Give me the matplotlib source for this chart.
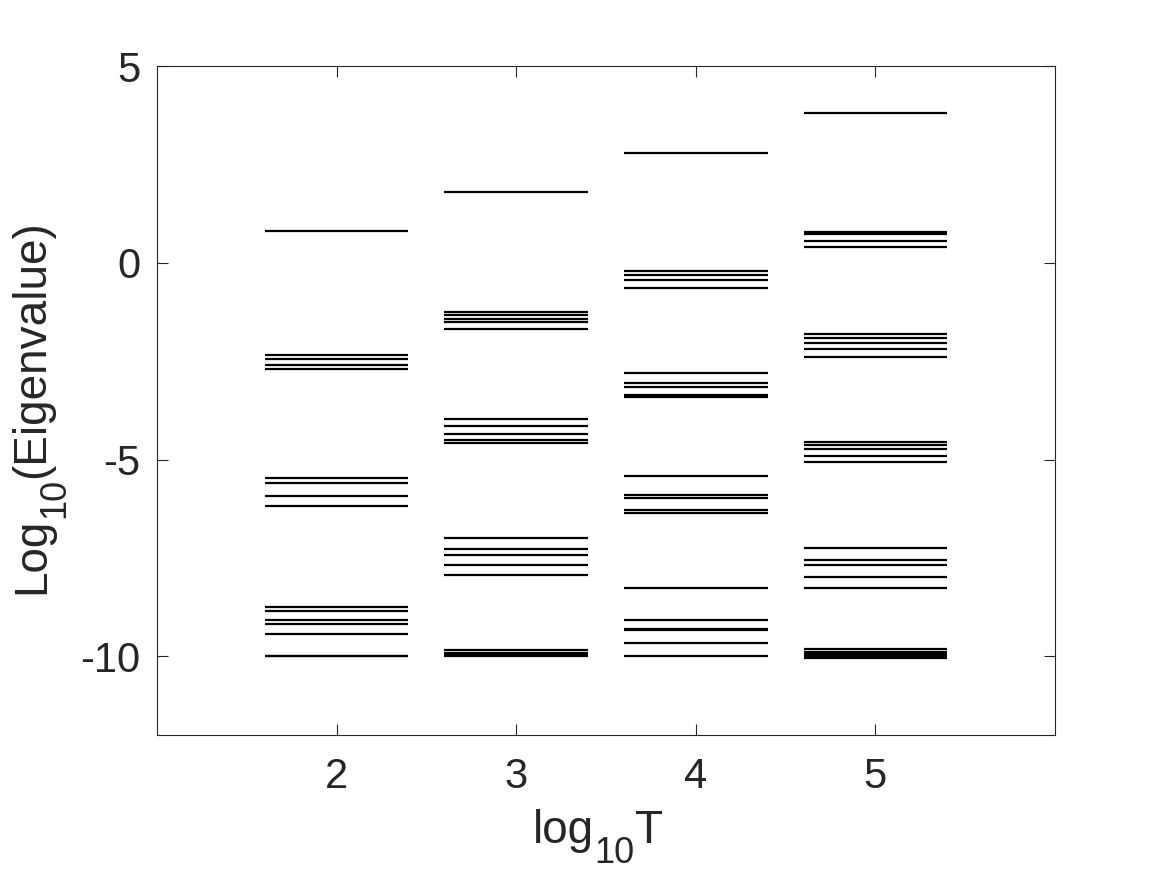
import matplotlib
matplotlib.use('Agg')
import matplotlib.pyplot as plt
from matplotlib.transforms import IdentityTransform

# Log10 eigenvalues, one list per log10(T)
log_t = [2, 3, 4, 5]
eig_t2 = [0.8, -2.35, -2.45, -2.6, -2.7, -5.47, -5.6, -5.92, -6.17,
          -8.76, -8.86, -9.09, -9.18, -9.43, -9.98, -10.0]
eig_t3 = [1.8, -1.25, -1.32, -1.44, -1.5, -1.68, -3.96, -4.14, -4.36, -4.5, -4.59,
          -6.99, -7.27, -7.42, -7.69, -7.94, -9.85, -9.92, -9.96, -10.0]
eig_t4 = [2.8, -0.2, -0.3, -0.44, -0.64, -2.79, -3.06, -3.15, -3.35, -3.4,
          -5.41, -5.89, -5.97, -6.28, -6.36, -8.27, -9.09, -9.3, -9.34, -9.67, -9.99]
eig_t5 = [3.8, 0.79, 0.72, 0.56, 0.39, -1.82, -1.91, -2.04, -2.19, -2.4,
          -4.56, -4.62, -4.73, -4.9, -5.06, -7.26, -7.56, -7.67, -7.98, -8.26,
          -9.82, -9.9, -9.95, -10.0, -10.05]
eigs = [eig_t2, eig_t3, eig_t4, eig_t5]

x_ticks = [2, 3, 4, 5]
y_ticks = [-10, -5, 0, 5]
xlabel_parts = [('log', False), ('10', True), ('T', False)]
ylabel_parts = [('Log', False), ('10', True), ('(Eigenvalue)', False)]

HALF_WIDTH = 0.4
TEXT_COLOR = '#262626'
LABEL_SIZE = 33
SUB_SIZE = 26
SUB_DROP = 20  # px, subscript baseline shift

plt.rcParams['font.family'] = ['Liberation Sans', 'DejaVu Sans']
plt.rcParams['axes.unicode_minus'] = False

W, H = 1167, 875
fig = plt.figure(figsize=(W / 100, H / 100), dpi=100)
ax = fig.add_axes([157 / W, 1 - 735 / H, 898 / W, 669 / H])

for t, vals in zip(log_t, eigs):
    ax.hlines(vals, t - HALF_WIDTH, t + HALF_WIDTH, colors='black', linewidth=1.6)

ax.set_xlim(1, 6)
ax.set_ylim(-12, 5)
ax.set_xticks(x_ticks)
ax.set_yticks(y_ticks)
ax.tick_params(direction='in', top=True, right=True, length=8, width=0.8,
               labelsize=30, colors=TEXT_COLOR, pad=12)
ax.tick_params(axis='x', pad=16)
for spine in ax.spines.values():
    spine.set_color(TEXT_COLOR)
    spine.set_linewidth(0.8)


def draw_label(parts, center, base, vertical):
    """Lay out a label with a MATLAB-style subscript, in pixel coords."""
    renderer = fig.canvas.get_renderer()
    widths = []
    for s, sub in parts:
        tmp = fig.text(0, 0, s, fontsize=SUB_SIZE if sub else LABEL_SIZE)
        widths.append(tmp.get_window_extent(renderer).width)
        tmp.remove()
    pos = center - sum(widths) / 2
    for (s, sub), w in zip(parts, widths):
        drop = SUB_DROP if sub else 0
        size = SUB_SIZE if sub else LABEL_SIZE
        if vertical:
            xy = (base + drop, pos)
        else:
            xy = (pos, base - drop)
        fig.text(xy[0], xy[1], s, fontsize=size, color=TEXT_COLOR,
                 transform=IdentityTransform(), ha='left', va='baseline',
                 rotation=90 if vertical else 0, rotation_mode='anchor')
        pos += w


draw_label(xlabel_parts, center=598, base=H - 843, vertical=False)
draw_label(ylabel_parts, center=H - 407, base=44, vertical=True)

fig.savefig('out.png', dpi=100, facecolor='white')
plt.close(fig)
